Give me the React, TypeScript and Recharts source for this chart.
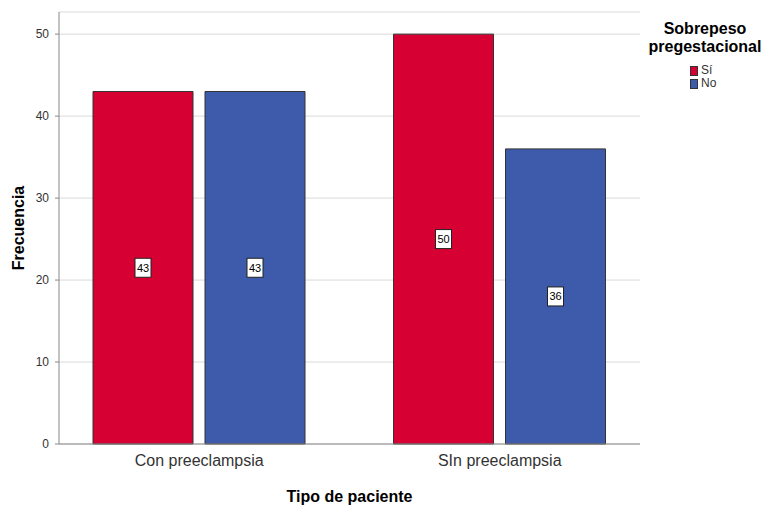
import { Bar, BarChart, CartesianGrid, Legend, XAxis, YAxis } from 'recharts'

const categories = ['Con preeclampsia', 'SIn preeclampsia']
const siValues = [43, 50]
const noValues = [43, 36]
const yTicks = [0, 10, 20, 30, 40, 50]

const data = categories.map((name, i) => ({ name, si: siValues[i], no: noValues[i] }))

const FONT = '"Liberation Sans", Arial, sans-serif'
const RED = '#d70032'
const BLUE = '#3e5aaa'

function BoxLabel(props: any) {
  const { x, y, width, height, value } = props
  const cx = x + width / 2
  const cy = y + height / 2
  return (
    <g>
      <rect x={cx - 8} y={cy - 9.5} width={16} height={19} fill="#fff" stroke="#222" strokeWidth={1} />
      <text x={cx} y={cy} textAnchor="middle" dominantBaseline="central" fontSize={11} fontFamily={FONT} fill="#000">
        {value}
      </text>
    </g>
  )
}

function LegendBox() {
  const items = [
    { label: 'Sí', color: RED },
    { label: 'No', color: BLUE },
  ]
  return (
    <div style={{ fontFamily: FONT, color: '#000' }}>
      <div style={{ fontWeight: 'bold', fontSize: 16, lineHeight: '18px', textAlign: 'center' }}>
        Sobrepeso
        <br />
        pregestacional
      </div>
      <div style={{ marginTop: 8, marginLeft: 45 }}>
        {items.map((it) => (
          <div
            key={it.label}
            style={{ display: 'flex', alignItems: 'center', height: 13, fontSize: 12, lineHeight: '13px', color: '#333' }}
          >
            <span
              style={{
                display: 'inline-block',
                width: 8,
                height: 10,
                background: it.color,
                border: '1px solid #333',
                boxSizing: 'border-box',
                marginRight: 3,
              }}
            />
            {it.label}
          </div>
        ))}
      </div>
    </div>
  )
}

export default function App() {
  return (
    <div style={{ position: 'absolute', left: 0, top: 0, width: 765, height: 506, background: '#fff' }}>
      <BarChart
        width={765}
        height={506}
        data={data}
        margin={{ top: 12, right: 5, left: 0, bottom: 0 }}
        barSize={100}
        barGap={12}
      >
        <CartesianGrid vertical={false} stroke="#d9d9d9" />
        <XAxis
          dataKey="name"
          height={62}
          padding={{ left: -10, right: -10 }}
          tickLine={false}
          axisLine={{ stroke: '#888' }}
          tick={{ fontSize: 16, fontFamily: FONT, fill: '#333' }}
          tickMargin={5}
          label={{
            value: 'Tipo de paciente',
            position: 'insideBottom',
            offset: 4,
            style: { fontSize: 16, fontWeight: 'bold', fontFamily: FONT, fill: '#000' },
          }}
        />
        <YAxis
          width={59}
          domain={[0, 52.7]}
          ticks={yTicks}
          tickSize={4}
          tickMargin={6}
          tickLine={{ stroke: '#888' }}
          axisLine={{ stroke: '#888' }}
          tick={{ fontSize: 12, fontFamily: FONT, fill: '#333' }}
          label={{
            value: 'Frecuencia',
            angle: -90,
            position: 'insideLeft',
            offset: 18,
            style: { fontSize: 16, fontWeight: 'bold', fontFamily: FONT, fill: '#000', textAnchor: 'middle' },
          }}
        />
        <Legend
          layout="vertical"
          align="right"
          verticalAlign="top"
          content={() => <LegendBox />}
          wrapperStyle={{ position: 'absolute', left: 645, top: 20, width: 120 }}
        />
        <Bar dataKey="si" name="Sí" fill={RED} stroke="#333" strokeWidth={1} isAnimationActive={false} label={<BoxLabel />} />
        <Bar dataKey="no" name="No" fill={BLUE} stroke="#333" strokeWidth={1} isAnimationActive={false} label={<BoxLabel />} />
      </BarChart>
    </div>
  )
}
